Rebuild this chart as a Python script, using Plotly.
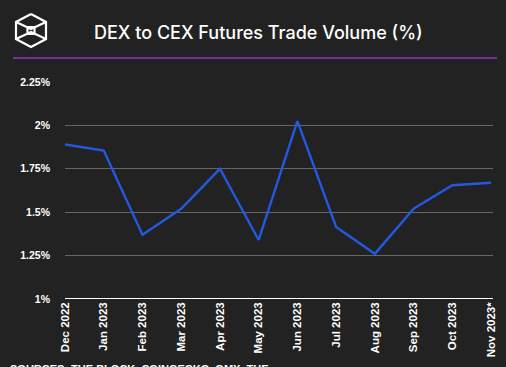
import plotly.graph_objects as go

months = ["Dec 2022", "Jan 2023", "Feb 2023", "Mar 2023", "Apr 2023", "May 2023",
          "Jun 2023", "Jul 2023", "Aug 2023", "Sep 2023", "Oct 2023", "Nov 2023*"]
ratio_pct = [1.89, 1.855, 1.37, 1.52, 1.75, 1.34, 2.025, 1.415, 1.26, 1.52, 1.655, 1.67]
tick_vals = [1.0, 1.25, 1.5, 1.75, 2.0, 2.25]
tick_text = ["1%", "1.25%", "1.5%", "1.75%", "2%", "2.25%"]

W, H = 506, 367
L, R, T, B = 65, 13, 82, 68
pw, ph = W - L - R, H - T - B

def px(x):
    return (x - L) / pw

def py(y):
    return (H - B - y) / ph

fig = go.Figure()
fig.add_trace(go.Scatter(
    x=list(range(len(months))), y=ratio_pct, mode="lines",
    line=dict(color="#2359e0", width=2.4), hoverinfo="skip", showlegend=False))

shapes = []
# purple header rule
shapes.append(dict(type="line", xref="paper", yref="paper",
                   x0=px(13), x1=px(497), y0=py(58), y1=py(58),
                   line=dict(color="#9932c8", width=1.5)))
# baseline at 1%
shapes.append(dict(type="line", xref="paper", yref="y",
                   x0=0, x1=1, y0=1.0, y1=1.0,
                   line=dict(color="#ffffff", width=2)))
# logo (cube)
def seg(pts, w=2.2):
    path = "M " + " L ".join(f"{px(a)},{py(b)}" for a, b in pts)
    return dict(type="path", xref="paper", yref="paper", path=path,
                line=dict(color="#ffffff", width=w))

hexpts = [(31, 14), (46, 22), (46, 39), (31, 47), (16, 39), (16, 22), (31, 14)]
shapes.append(seg(hexpts))
shapes.append(seg([(16, 22), (31, 29), (46, 22)]))
shapes.append(seg([(16, 39), (31, 32), (46, 39)]))
shapes.append(dict(type="rect", xref="paper", yref="paper",
                   x0=px(27.5), x1=px(34.5), y0=py(27), y1=py(34),
                   line=dict(color="#ffffff", width=2.2)))

fig.update_layout(
    width=W, height=H,
    margin=dict(l=L, r=R, t=T, b=B, autoexpand=False),
    paper_bgcolor="#222222", plot_bgcolor="#222222",
    shapes=shapes,
    annotations=[
        dict(text="DEX to CEX Futures Trade Volume (%)", xref="paper", yref="paper",
             x=px(258), y=py(33), xanchor="center", yanchor="middle", showarrow=False,
             font=dict(family="Inter", size=18, color="#ffffff", weight=500)),
        dict(text="<b>SOURCES: THE BLOCK, COINGECKO, GMX, THE</b>", xref="paper", yref="paper",
             x=px(8), y=py(361), xanchor="left", yanchor="top", showarrow=False,
             font=dict(family="Liberation Sans", size=11, color="#ffffff")),
    ],
    xaxis=dict(
        tickmode="array", tickvals=list(range(len(months))), ticktext=months,
        tickangle=-90, range=[0, 11.05], showgrid=False, zeroline=False,
        showline=False, ticks="", automargin=False,
        tickfont=dict(family="Liberation Sans", size=11.5, color="#ffffff", weight="bold"),
    ),
    yaxis=dict(
        tickmode="array", tickvals=tick_vals, ticktext=tick_text,
        range=[1.0, 2.25], showgrid=True, gridcolor="#666666", gridwidth=1,
        zeroline=False, showline=False, ticks="", ticklabelstandoff=14, automargin=False,
        tickfont=dict(family="Liberation Sans", size=10.5, color="#ffffff", weight="bold"),
    ),
)

fig.write_html("out.html", config={"displayModeBar": False},
               post_script="document.body.style.margin='0';document.body.style.background='#222222';")
